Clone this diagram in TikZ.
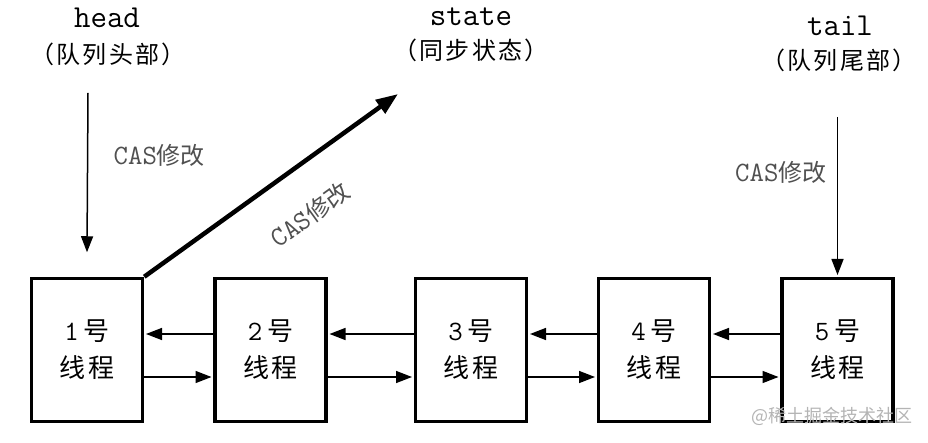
\documentclass[tikz,border=0pt]{standalone}
\usepackage{fontspec}
\newfontfamily\cjk{Noto Sans CJK SC}
\newfontfamily\cjkwide[LetterSpace=10]{Noto Sans CJK SC}
\usetikzlibrary{arrows.meta}
\definecolor{CasGray}{HTML}{505050}
\definecolor{MarkGray}{HTML}{B4B4B4}
\newcommand\casmod{{\ttfamily\fontsize{28}{26}\selectfont CAS}{\cjk 修改}}
\newcommand\thr[1]{#1\,{\cjk\fontsize{26}{37}\selectfont 号}\\{\cjkwide\fontsize{26}{37}\selectfont 线程}}

\begin{document}
\begin{tikzpicture}[
  x=1pt,y=-1pt,
  thread/.style={draw,line width=3.5pt,minimum width=111pt,minimum height=143pt,
    inner sep=0pt,align=center,font=\ttfamily\fontsize{28}{37}\selectfont},
  title/.style={font=\ttfamily\fontsize{32}{30}\selectfont},
  cntitle/.style={font=\cjkwide\fontsize{24}{26}\selectfont},
  cas/.style={text=CasGray,font=\fontsize{24}{26}\selectfont},
  ptr/.style={-{Triangle[length=16pt,width=12pt]},line width=1.5pt},
  hptr/.style={ptr,shorten >=1.75pt},
  bigptr/.style={-{Triangle[length=22pt,width=16pt]},line width=4.5pt}
]
  \useasboundingbox (0,0) rectangle (928,443);
  \node[thread] (t1) at (87,350) {\thr{1}};
  \node[thread] (t2) at (270.5,350) {\thr{2}};
  \node[thread] (t3) at (471,350) {\thr{3}};
  \node[thread] (t4) at (654,350) {\thr{4}};
  \node[thread] (t5) at (837.5,350) {\thr{5}};
  \node[title] (head) at (107,18) {head};
  \node[cntitle] (headcn) at (108,54) {（队列头部）};
  \node[title] (state) at (471,17) {state};
  \node[cntitle] (statecn) at (471,50) {（同步状态）};
  \node[title] (tail) at (840,26) {tail};
  \node[cntitle] (tailcn) at (839,60) {（队列尾部）};
  \node[font=\cjk\fontsize{18}{20}\selectfont,text=MarkGray] (mark) at (832,416) {@稀土掘金技术社区};
  \coordinate (headtop) at (88,93);
  \coordinate (tailtop) at (837.5,117);
  \coordinate (statetip) at (398,94);
  \draw[ptr] (headtop) -- ([yshift=24.5pt]t1.north)
    node[cas,pos=0.39,right=22pt] {\casmod};
  \draw[ptr] (tailtop) -- ([yshift=1.75pt]t5.north)
    node[cas,pos=0.35,left=7pt] {\casmod};
  \draw[bigptr] (t1.north east) -- (statetip)
    node[cas,sloped,pos=0.546,below=30pt] {\casmod};
  \draw[hptr] ([yshift=16pt]t2.west) -- ([yshift=16pt]t1.east);
  \draw[hptr] ([yshift=-27pt]t1.east) -- ([yshift=-27pt]t2.west);
  \draw[hptr] ([yshift=16pt]t3.west) -- ([yshift=16pt]t2.east);
  \draw[hptr] ([yshift=-27pt]t2.east) -- ([yshift=-27pt]t3.west);
  \draw[hptr] ([yshift=16pt]t4.west) -- ([yshift=16pt]t3.east);
  \draw[hptr] ([yshift=-27pt]t3.east) -- ([yshift=-27pt]t4.west);
  \draw[hptr] ([yshift=16pt]t5.west) -- ([yshift=16pt]t4.east);
  \draw[hptr] ([yshift=-27pt]t4.east) -- ([yshift=-27pt]t5.west);
\end{tikzpicture}
\end{document}
